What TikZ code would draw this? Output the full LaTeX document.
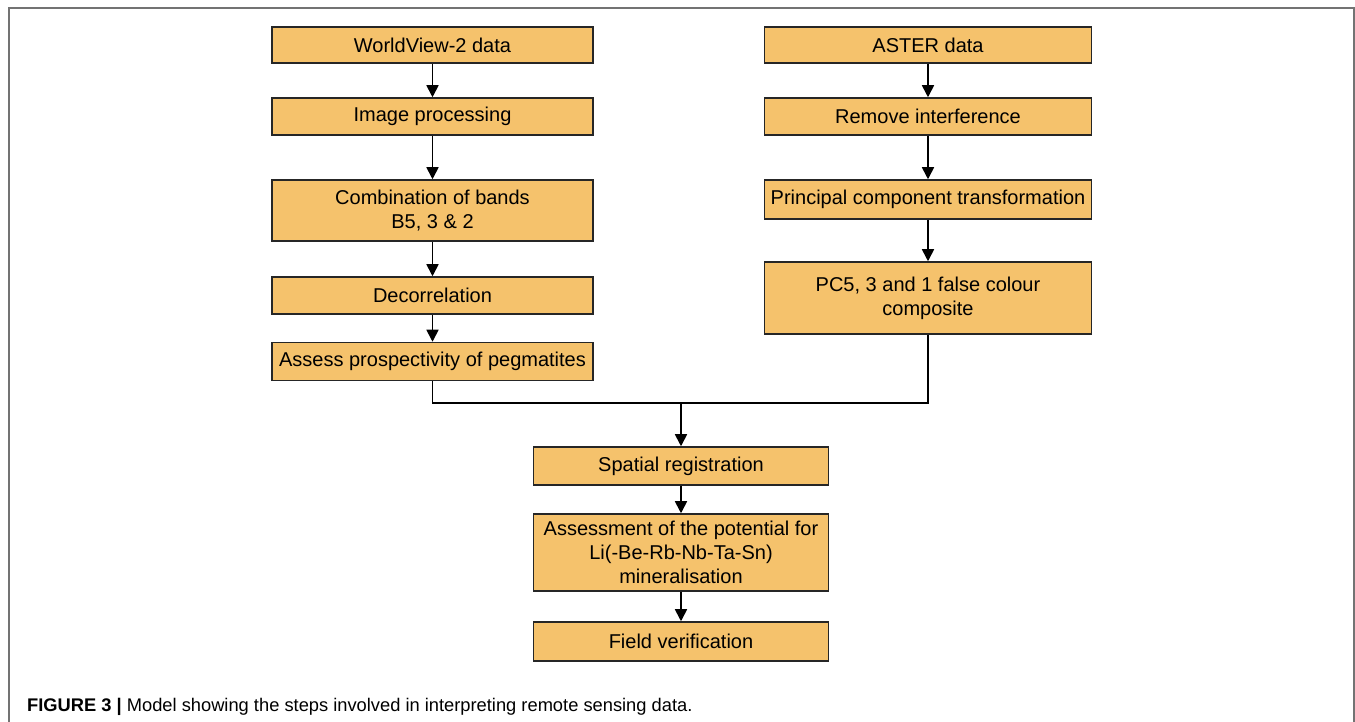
\documentclass[tikz,border=0pt]{standalone}
\usepackage{fontspec}
\setmainfont{Liberation Sans}
\usetikzlibrary{arrows.meta}
\definecolor{boxorange}{RGB}{245,194,108}
\definecolor{framegray}{RGB}{115,115,115}
\tikzset{
	stepbox/.style={draw=black!85, line width=1.5pt, fill=boxorange, align=center, inner sep=0pt, font=\fontsize{20}{24}\selectfont},
	flow/.style={line width=1.7pt, -{Triangle[length=12pt,width=12pt]}},
	link/.style={line width=1.7pt},
}
\begin{document}
\begin{tikzpicture}[x=1pt, y=1pt]
			%%%%% START %%%%%
			
			\useasboundingbox (0, 0) rectangle (1355, 722);
			\draw[line width=1.5pt, color=framegray] (9, 0) -- (9, 714) -- (1354, 714) -- (1354, 0);
			
			% left column
			\node[stepbox, minimum width=321, minimum height=36] (wv) at (432.5, 677) {WorldView-2 data};
			\node[stepbox, minimum width=321, minimum height=37] (imgproc) at (432.5, 605.5) {Image processing};
			\node[stepbox, minimum width=321, minimum height=61] (bands) at (432.5, 511.5) {Combination of bands\\B5, 3 \& 2};
			\node[stepbox, minimum width=321, minimum height=37] (decor) at (432.5, 426.5) {Decorrelation};
			\node[stepbox, minimum width=321, minimum height=38] (assess) at (432.5, 360.5) {Assess prospectivity of pegmatites};
			
			% right column
			\node[stepbox, minimum width=327, minimum height=36] (aster) at (928, 677) {ASTER data};
			\node[stepbox, minimum width=327, minimum height=37] (remove) at (928, 605.5) {Remove interference};
			\node[stepbox, minimum width=327, minimum height=39] (pct) at (928, 522.5) {Principal component transformation};
			\node[stepbox, minimum width=327, minimum height=72] (pcfive) at (928, 424) {PC5, 3 and 1 false colour\\composite};
			
			% centre column
			\node[stepbox, minimum width=295, minimum height=38] (spatial) at (681, 256) {Spatial registration};
			\node[stepbox, minimum width=295, minimum height=77] (potential) at (681, 169.5) {Assessment of the potential for\\Li(-Be-Rb-Nb-Ta-Sn)\\mineralisation};
			\node[stepbox, minimum width=295, minimum height=39] (field) at (681, 80.5) {Field verification};
			
			\coordinate (merge) at (681, 319);
			
			\draw[flow] (wv) -- (imgproc);
			\draw[flow] (imgproc) -- (bands);
			\draw[flow] (bands) -- (decor);
			\draw[flow] (decor) -- (assess);
			
			\draw[flow] (aster) -- (remove);
			\draw[flow] (remove) -- (pct);
			\draw[flow] (pct) -- (pcfive);
			
			\draw[link] (assess.south) |- (merge);
			\draw[link] (pcfive.south) |- (merge);
			\draw[flow] (merge) -- (spatial);
			\draw[flow] (spatial) -- (potential);
			\draw[flow] (potential) -- (field);
			
			\node[anchor=base west, inner sep=0pt, font=\fontsize{18.3}{22}\selectfont] (caption) at (27, 10) {\textbf{FIGURE 3 |} Model showing the steps involved in interpreting remote sensing data.};
			
			%%%%% END %%%%%
\end{tikzpicture}
\end{document}
